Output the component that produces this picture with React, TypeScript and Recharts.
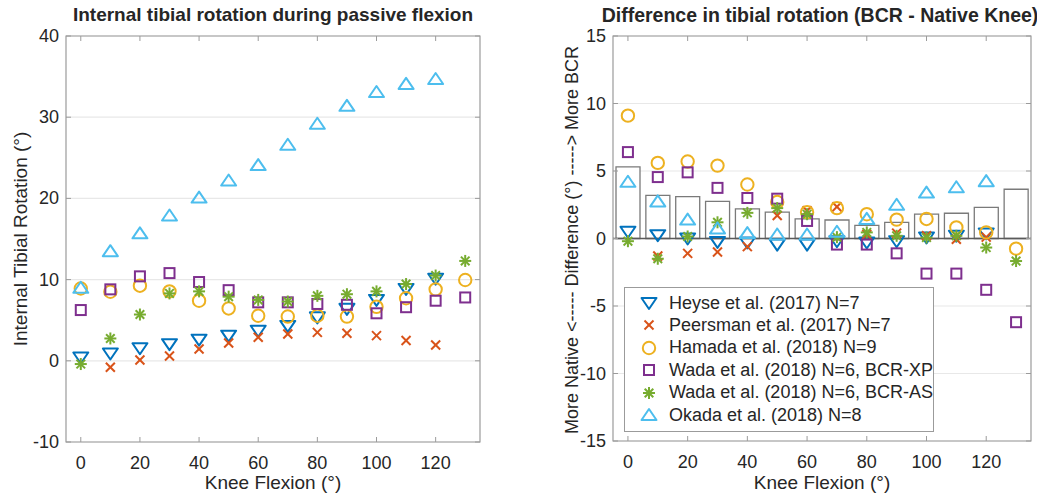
import React from 'react';
import {
  ScatterChart, ComposedChart, Scatter, Bar, XAxis, YAxis, CartesianGrid,
  ReferenceArea, ReferenceLine,
} from 'recharts';

// Knee flexion angles (deg)
const FLEXION = [0, 10, 20, 30, 40, 50, 60, 70, 80, 90, 100, 110, 120, 130];

// Left panel: internal tibial rotation of the BCR knee (deg)
const HEYSE_ROT = [0.4, 0.9, 1.55, 2.05, 2.6, 3.1, 3.7, 4.3, 5.35, 6.4, 7.5, 8.85, 10.1, null];
const PEERSMAN_ROT = [null, -0.8, 0.1, 0.6, 1.45, 2.2, 2.9, 3.3, 3.5, 3.4, 3.1, 2.5, 1.95, null];
const HAMADA_ROT = [8.9, 8.5, 9.25, 8.55, 7.4, 6.45, 5.55, 5.45, 5.55, 5.45, 6.65, 7.7, 8.8, 9.95];
const WADA_XP_ROT = [6.25, 8.8, 10.4, 10.8, 9.7, 8.7, 7.2, 7.2, 7.0, 6.9, 5.85, 6.6, 7.4, 7.8];
const WADA_AS_ROT = [-0.4, 2.75, 5.7, 8.3, 8.55, 7.9, 7.5, 7.3, 8.0, 8.2, 8.55, 9.45, 10.5, 12.3];
const OKADA_ROT = [9.0, 13.5, 15.7, 17.9, 20.1, 22.2, 24.1, 26.6, 29.2, 31.4, 33.1, 34.1, 34.7, null];

// Right panel: difference BCR - native knee (deg)
const HEYSE_DIFF = [0.5, 0.25, 0.0, -0.25, -0.3, -0.45, -0.45, -0.2, -0.3, -0.2, 0.07, 0.2, 0.37, null];
const PEERSMAN_DIFF = [null, -1.3, -1.1, -1.0, -0.6, 1.7, 2.05, 2.35, 0.3, 0.4, 0.2, -0.05, 0.1, null];
const HAMADA_DIFF = [9.1, 5.6, 5.7, 5.4, 4.0, 2.7, 1.95, 2.25, 1.8, 1.4, 1.45, 0.82, 0.45, -0.75];
const WADA_XP_DIFF = [6.4, 4.55, 4.9, 3.75, 3.0, 2.95, 1.3, -0.45, -0.45, -1.1, -2.6, -2.6, -3.8, -6.2];
const WADA_AS_DIFF = [-0.2, -1.5, 0.15, 1.2, 1.9, 2.25, 1.8, 0.1, 0.45, 0.2, 0.07, 0.2, -0.67, -1.67];
const OKADA_DIFF = [4.2, 2.75, 1.4, 0.75, 0.4, 0.3, 0.3, 0.5, 1.45, 2.5, 3.4, 3.8, 4.25, null];
const BAR_DIFF = [5.3, 3.2, 3.1, 2.75, 2.2, 1.95, 1.45, 1.37, 0.97, 1.2, 1.8, 1.87, 2.3, 3.65];

const X_TICKS = [0, 20, 40, 60, 80, 100, 120];
const LEFT_Y_TICKS = [-10, 0, 10, 20, 30, 40];
const RIGHT_Y_TICKS = [-15, -10, -5, 0, 5, 10, 15];

const SERIES = [
  { name: 'Heyse et al. (2017) N=7', color: '#0072BD', marker: 'down', rot: HEYSE_ROT, diff: HEYSE_DIFF },
  { name: 'Peersman et al. (2017) N=7', color: '#D95319', marker: 'x', rot: PEERSMAN_ROT, diff: PEERSMAN_DIFF },
  { name: 'Hamada et al. (2018) N=9', color: '#EDB120', marker: 'circle', rot: HAMADA_ROT, diff: HAMADA_DIFF },
  { name: 'Wada et al. (2018) N=6, BCR-XP', color: '#7E2F8E', marker: 'square', rot: WADA_XP_ROT, diff: WADA_XP_DIFF },
  { name: 'Wada et al. (2018) N=6, BCR-AS', color: '#77AC30', marker: 'star', rot: WADA_AS_ROT, diff: WADA_AS_DIFF },
  { name: 'Okada et al. (2018) N=8', color: '#4DBEEE', marker: 'up', rot: OKADA_ROT, diff: OKADA_DIFF },
];

const toPoints = (vals: (number | null)[]) =>
  FLEXION.map((x, i) => ({ x, y: vals[i] })).filter((p) => p.y !== null);

const barData = FLEXION.map((x, i) => ({ x, bar: BAR_DIFF[i] }));

const TEXT = '#262626';
const AXIS = '#9b9b9b';
const GRID = '#e8e8e8';
const FONT = 'Arial, "Liberation Sans", Helvetica, sans-serif';

function Marker({ type, cx, cy, color }: { type: string; cx: number; cy: number; color: string }) {
  const sw = 2;
  if (type === 'down') {
    return <polygon points={`${cx - 7.5},${cy - 5} ${cx + 7.5},${cy - 5} ${cx},${cy + 6}`} fill="none" stroke={color} strokeWidth={sw} strokeLinejoin="round" />;
  }
  if (type === 'up') {
    return <polygon points={`${cx - 7.5},${cy + 5} ${cx + 7.5},${cy + 5} ${cx},${cy - 6}`} fill="none" stroke={color} strokeWidth={sw} strokeLinejoin="round" />;
  }
  if (type === 'circle') {
    return <circle cx={cx} cy={cy} r={6.2} fill="none" stroke={color} strokeWidth={sw} />;
  }
  if (type === 'square') {
    return <rect x={cx - 5} y={cy - 5} width={10} height={10} fill="none" stroke={color} strokeWidth={sw} />;
  }
  if (type === 'x') {
    const d = 4.5;
    return (
      <g stroke={color} strokeWidth={sw}>
        <line x1={cx - d} y1={cy - d} x2={cx + d} y2={cy + d} />
        <line x1={cx - d} y1={cy + d} x2={cx + d} y2={cy - d} />
      </g>
    );
  }
  // asterisk
  const d = 6;
  const e = 4.3;
  return (
    <g stroke={color} strokeWidth={sw}>
      <line x1={cx - d} y1={cy} x2={cx + d} y2={cy} />
      <line x1={cx} y1={cy - d} x2={cx} y2={cy + d} />
      <line x1={cx - e} y1={cy - e} x2={cx + e} y2={cy + e} />
      <line x1={cx - e} y1={cy + e} x2={cx + e} y2={cy - e} />
    </g>
  );
}

const makeXTick = (plotH: number) => (props: any) => {
  const { x, y, payload } = props;
  return (
    <g>
      <line x1={x} x2={x} y1={y} y2={y - 5} stroke={AXIS} />
      <line x1={x} x2={x} y1={y - plotH} y2={y - plotH + 5} stroke={AXIS} />
      <text x={x} y={y + 27} textAnchor="middle" fontSize={18} fill={TEXT} fontFamily={FONT}>
        {payload.value}
      </text>
    </g>
  );
};

const makeYTick = (plotW: number) => (props: any) => {
  const { x, y, payload } = props;
  return (
    <g>
      <line x1={x} x2={x + 5} y1={y} y2={y} stroke={AXIS} />
      <line x1={x + plotW - 5} x2={x + plotW} y1={y} y2={y} stroke={AXIS} />
      <text x={x - 7} y={y + 6} textAnchor="end" fontSize={18} fill={TEXT} fontFamily={FONT}>
        {payload.value}
      </text>
    </g>
  );
};

const abs = (style: React.CSSProperties): React.CSSProperties => ({
  position: 'absolute', fontFamily: FONT, color: TEXT, whiteSpace: 'nowrap', ...style,
});

export default function App() {
  // left panel plot: x 66..480, y 36..442 ; right panel plot: x 613..1031, y 36..441
  return (
    <div style={{ position: 'absolute', left: 0, top: 0, width: 1037, height: 497, background: '#fff', overflow: 'hidden' }}>
      <div style={{ position: 'absolute', left: 0, top: 0 }}>
        <ScatterChart width={540} height={497} margin={{ top: 36, right: 60, bottom: 0, left: 0 }}>
          <CartesianGrid vertical={false} stroke={GRID} strokeWidth={1.2} />
          <XAxis type="number" dataKey="x" domain={[-5, 135]} ticks={X_TICKS} height={55}
            axisLine={false} tickLine={false} tickSize={0} tickMargin={0} tick={makeXTick(406)} interval={0} />
          <YAxis type="number" dataKey="y" domain={[-10, 40]} ticks={LEFT_Y_TICKS} width={66}
            axisLine={false} tickLine={false} tickSize={0} tickMargin={0} tick={makeYTick(414)} interval={0} />
          <ReferenceArea x1={-5} x2={135} y1={-10} y2={40} fill="none" stroke={AXIS} strokeWidth={1.2} />
          {SERIES.map((s) => (
            <Scatter key={s.name} name={s.name} data={toPoints(s.rot)} isAnimationActive={false}
              shape={(p: any) => <Marker type={s.marker} cx={p.cx} cy={p.cy} color={s.color} />} />
          ))}
        </ScatterChart>
      </div>

      <div style={{ position: 'absolute', left: 540, top: 0 }}>
        <ComposedChart width={497} height={497} data={barData} margin={{ top: 36, right: 6, bottom: 0, left: 0 }}>
          <CartesianGrid vertical={false} stroke={GRID} strokeWidth={1.2} />
          <XAxis type="number" dataKey="x" domain={[-5, 135]} ticks={X_TICKS} height={56}
            axisLine={false} tickLine={false} tickSize={0} tickMargin={0} tick={makeXTick(405)} interval={0} />
          <YAxis type="number" domain={[-15, 15]} ticks={RIGHT_Y_TICKS} width={73}
            axisLine={false} tickLine={false} tickSize={0} tickMargin={0} tick={makeYTick(418)} interval={0} />
          <ReferenceArea x1={-5} x2={135} y1={-15} y2={15} fill="none" stroke={AXIS} strokeWidth={1.2} />
          <Bar dataKey="bar" barSize={24} fill="#fff" stroke="#7a7a7a" strokeWidth={1.3} isAnimationActive={false} legendType="none" />
          <ReferenceLine y={0} stroke="#5a5a5a" strokeWidth={1.3} />
          {SERIES.map((s) => (
            <Scatter key={s.name} name={s.name} data={toPoints(s.diff)} dataKey="y" isAnimationActive={false}
              shape={(p: any) => <Marker type={s.marker} cx={p.cx} cy={p.cy} color={s.color} />} />
          ))}
        </ComposedChart>
      </div>

      {/* titles */}
      <div style={abs({ left: 273, top: 4, transform: 'translateX(-50%)', fontSize: 19, fontWeight: 'bold' })}>
        Internal tibial rotation during passive flexion
      </div>
      <div style={abs({ left: 820, top: 4, transform: 'translateX(-50%)', fontSize: 19.5, fontWeight: 'bold' })}>
        Difference in tibial rotation (BCR - Native Knee)
      </div>

      {/* axis labels */}
      <div style={abs({ left: 273, top: 472, transform: 'translateX(-50%)', fontSize: 19 })}>Knee Flexion (°)</div>
      <div style={abs({ left: 822, top: 472, transform: 'translateX(-50%)', fontSize: 19 })}>Knee Flexion (°)</div>
      <div style={abs({ left: 21, top: 239, transform: 'translate(-50%, -50%) rotate(-90deg)', fontSize: 19 })}>
        Internal Tibial Rotation (°)
      </div>
      <div style={abs({ left: 572, top: 240, transform: 'translate(-50%, -50%) rotate(-90deg)', fontSize: 18 })}>
        More Native &lt;----- Difference (°) -----&gt; More BCR
      </div>

      {/* legend */}
      <div style={abs({ left: 624, top: 287, width: 310, height: 145, border: `1px solid ${AXIS}`, background: '#fff', boxSizing: 'border-box' })}>
        {SERIES.map((s, i) => (
          <div key={s.name} style={{ position: 'absolute', left: 0, top: 4 + i * 22.4, height: 22, display: 'flex', alignItems: 'center' }}>
            <svg width={44} height={22} style={{ display: 'block' }}>
              <Marker type={s.marker} cx={24} cy={11} color={s.color} />
            </svg>
            <span style={{ fontSize: 18 }}>{s.name}</span>
          </div>
        ))}
      </div>
    </div>
  );
}
